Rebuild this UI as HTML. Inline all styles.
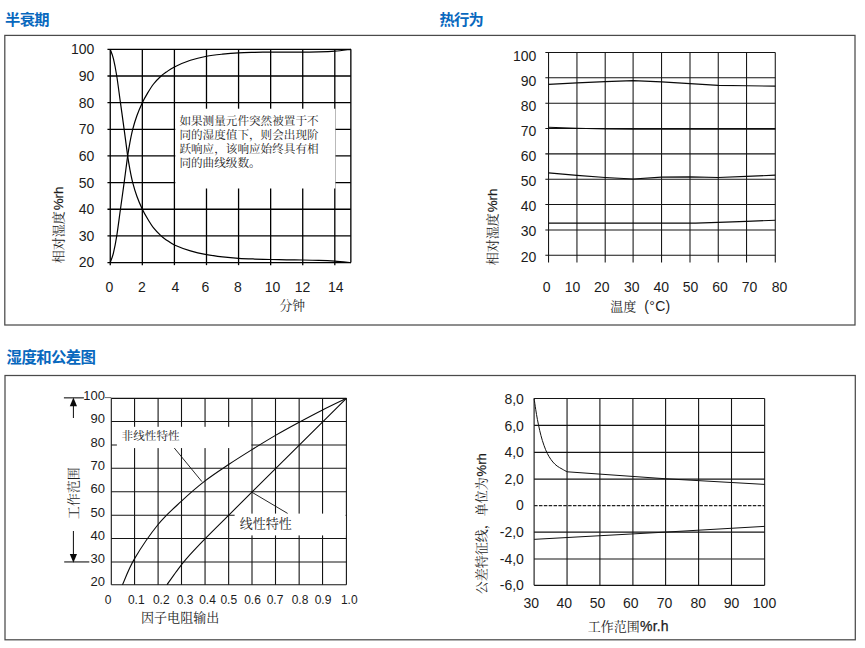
<!DOCTYPE html>
<html lang="zh-CN">
<head>
<meta charset="utf-8">
<title>湿度传感器特性图</title>
<style>
html,body{margin:0;padding:0;background:#fff;}
body{width:865px;height:648px;overflow:hidden;font-family:"Liberation Sans",sans-serif;}
svg{display:block;}
svg text{font-family:"Liberation Sans",sans-serif;}
svg text.hd{font-family:"Liberation Sans","Noto Sans CJK SC",sans-serif;font-weight:bold;}
svg text.sf{font-family:"Liberation Serif","Noto Serif CJK SC",serif;}
</style>
</head>
<body>
<svg width="865" height="648" viewBox="0 0 865 648">
<rect x="4.8" y="35.4" width="850.2" height="289.6" fill="none" stroke="#4a4a4a" stroke-width="1.25"/>
<rect x="5" y="375.5" width="850.3" height="264.3" fill="none" stroke="#4a4a4a" stroke-width="1.25"/>
<text class="hd" x="5.1" y="25.4" font-size="15.3" textLength="44.4" lengthAdjust="spacing" fill="#0868be">半衰期</text>
<text class="hd" x="439.5" y="25.4" font-size="15.3" textLength="44.4" lengthAdjust="spacing" fill="#0868be">热行为</text>
<text class="hd" x="6.6" y="362.8" font-size="15.4" textLength="89.4" lengthAdjust="spacing" fill="#0868be">湿度和公差图</text>
<g id="c1">
<line x1="110.25" y1="49.35" x2="110.25" y2="265.15" stroke="#000" stroke-width="1.3"/>
<line x1="142.33" y1="49.35" x2="142.33" y2="265.15" stroke="#000" stroke-width="1.3"/>
<line x1="174.41" y1="49.35" x2="174.41" y2="265.15" stroke="#000" stroke-width="1.3"/>
<line x1="206.49" y1="49.35" x2="206.49" y2="265.15" stroke="#000" stroke-width="1.3"/>
<line x1="238.57" y1="49.35" x2="238.57" y2="265.15" stroke="#000" stroke-width="1.3"/>
<line x1="270.65" y1="49.35" x2="270.65" y2="265.15" stroke="#000" stroke-width="1.3"/>
<line x1="302.73" y1="49.35" x2="302.73" y2="265.15" stroke="#000" stroke-width="1.3"/>
<line x1="334.81" y1="49.35" x2="334.81" y2="265.15" stroke="#000" stroke-width="1.3"/>
<line x1="350.85" y1="49.35" x2="350.85" y2="262.55" stroke="#000" stroke-width="1.3"/>
<line x1="107.45" y1="262.55" x2="350.85" y2="262.55" stroke="#000" stroke-width="1.3"/>
<line x1="107.45" y1="235.9" x2="350.85" y2="235.9" stroke="#000" stroke-width="1.3"/>
<line x1="107.45" y1="209.25" x2="350.85" y2="209.25" stroke="#000" stroke-width="1.3"/>
<line x1="107.45" y1="182.6" x2="350.85" y2="182.6" stroke="#000" stroke-width="1.3"/>
<line x1="107.45" y1="155.95" x2="350.85" y2="155.95" stroke="#000" stroke-width="1.3"/>
<line x1="107.45" y1="129.3" x2="350.85" y2="129.3" stroke="#000" stroke-width="1.3"/>
<line x1="107.45" y1="102.65" x2="350.85" y2="102.65" stroke="#000" stroke-width="1.3"/>
<line x1="107.45" y1="76" x2="350.85" y2="76" stroke="#000" stroke-width="1.3"/>
<line x1="107.45" y1="49.35" x2="350.85" y2="49.35" stroke="#000" stroke-width="1.3"/>
<path d="M110.25 262.55C110.78 260.95 112.38 257.4 113.46 252.96C114.54 248.51 115.58 243.18 116.75 235.9C117.91 228.62 119.2 218.13 120.44 209.25C121.67 200.37 122.94 191.48 124.14 182.6C125.34 173.72 126.68 162.7 127.65 155.95C128.63 149.2 129.14 146.53 129.98 142.09C130.82 137.65 131.56 133.7 132.71 129.3C133.86 124.9 135.27 120.15 136.88 115.71C138.48 111.27 140.59 106.34 142.33 102.65C144.07 98.96 145.43 96.7 147.3 93.59C149.17 90.48 151.26 86.93 153.56 84C155.86 81.06 158.96 78 161.1 76C163.24 74 164.17 73.51 166.39 72C168.61 70.49 170.4 68.89 174.41 66.94C178.42 64.98 185.1 62.05 190.45 60.28C195.8 58.5 201.14 57.3 206.49 56.28C211.84 55.26 217.18 54.72 222.53 54.15C227.88 53.57 233.22 53.12 238.57 52.81C243.92 52.51 249.26 52.45 254.61 52.33C259.96 52.22 265.3 52.19 270.65 52.15C276 52.11 281.34 52.11 286.69 52.09C292.04 52.08 297.38 52.11 302.73 52.07C308.08 52.03 313.42 52.01 318.77 51.86C324.12 51.7 329.46 51.53 334.81 51.11C340.16 50.69 348.18 49.64 350.85 49.35" fill="none" stroke="#000" stroke-width="1.2"/>
<path d="M110.25 49.35C110.78 50.95 112.38 54.5 113.46 58.94C114.54 63.39 115.58 68.72 116.75 76C117.91 83.28 119.2 93.77 120.44 102.65C121.67 111.53 122.94 120.42 124.14 129.3C125.34 138.18 126.68 149.2 127.65 155.95C128.63 162.7 129.14 165.37 129.98 169.81C130.82 174.25 131.56 178.2 132.71 182.6C133.86 187 135.27 191.75 136.88 196.19C138.48 200.63 140.59 205.56 142.33 209.25C144.07 212.94 145.43 215.2 147.3 218.31C149.17 221.42 151.26 224.97 153.56 227.91C155.86 230.84 158.96 233.9 161.1 235.9C163.24 237.9 164.17 238.39 166.39 239.9C168.61 241.41 170.4 243.14 174.41 244.96C178.42 246.78 185.1 249.22 190.45 250.82C195.8 252.42 201.14 253.56 206.49 254.56C211.84 255.55 217.18 256.2 222.53 256.82C227.88 257.44 233.22 257.92 238.57 258.29C243.92 258.65 249.26 258.83 254.61 259.03C259.96 259.23 265.3 259.36 270.65 259.49C276 259.61 281.34 259.69 286.69 259.78C292.04 259.86 297.38 259.88 302.73 259.99C308.08 260.1 313.42 260.21 318.77 260.42C324.12 260.62 329.46 260.86 334.81 261.22C340.16 261.57 348.18 262.33 350.85 262.55" fill="none" stroke="#000" stroke-width="1.2"/>
<rect x="175.3" y="108.7" width="160.1" height="79.8" fill="#fff"/>
<text class="sf" x="179.4" y="125.3" font-size="11.6" textLength="139.2" lengthAdjust="spacing" fill="#1c1c1c">如果测量元件突然被置于不</text>
<text class="sf" x="179.4" y="139.3" font-size="11.6" textLength="139.2" lengthAdjust="spacing" fill="#1c1c1c">同的湿度值下，则会出现阶</text>
<text class="sf" x="179.4" y="153.3" font-size="11.6" textLength="139.2" lengthAdjust="spacing" fill="#1c1c1c">跃响应，该响应始终具有相</text>
<text class="sf" x="179.4" y="167.3" font-size="11.6" textLength="81.2" lengthAdjust="spacing" fill="#1c1c1c">同的曲线级数。</text>
<text x="94.3" y="267.45" font-size="14" text-anchor="end" fill="#1c1c1c">20</text>
<text x="94.3" y="240.8" font-size="14" text-anchor="end" fill="#1c1c1c">30</text>
<text x="94.3" y="214.15" font-size="14" text-anchor="end" fill="#1c1c1c">40</text>
<text x="94.3" y="187.5" font-size="14" text-anchor="end" fill="#1c1c1c">50</text>
<text x="94.3" y="160.85" font-size="14" text-anchor="end" fill="#1c1c1c">60</text>
<text x="94.3" y="134.2" font-size="14" text-anchor="end" fill="#1c1c1c">70</text>
<text x="94.3" y="107.55" font-size="14" text-anchor="end" fill="#1c1c1c">80</text>
<text x="94.3" y="80.9" font-size="14" text-anchor="end" fill="#1c1c1c">90</text>
<text x="94.3" y="54.25" font-size="14" text-anchor="end" fill="#1c1c1c">100</text>
<text x="109.5" y="291.61" font-size="14" text-anchor="middle" fill="#1c1c1c">0</text>
<text x="142" y="291.61" font-size="14" text-anchor="middle" fill="#1c1c1c">2</text>
<text x="175.5" y="291.61" font-size="14" text-anchor="middle" fill="#1c1c1c">4</text>
<text x="205.5" y="291.61" font-size="14" text-anchor="middle" fill="#1c1c1c">6</text>
<text x="238" y="291.61" font-size="14" text-anchor="middle" fill="#1c1c1c">8</text>
<text x="272.5" y="291.61" font-size="14" text-anchor="middle" fill="#1c1c1c">10</text>
<text x="302.5" y="291.61" font-size="14" text-anchor="middle" fill="#1c1c1c">12</text>
<text x="335.75" y="291.61" font-size="14" text-anchor="middle" fill="#1c1c1c">14</text>
<text class="sf" x="279.4" y="310" font-size="12.8" textLength="25.6" lengthAdjust="spacing" fill="#1c1c1c">分钟</text>
<text class="sf" x="0" y="0" transform="translate(62.6 263.2) rotate(-90)" font-size="13" textLength="52" lengthAdjust="spacing" fill="#1c1c1c">相对湿度</text>
<text x="0" y="0" transform="translate(62.6 210.3) rotate(-90)" font-size="13.4" text-anchor="start" fill="#1c1c1c" stroke="#1c1c1c" stroke-width="0.25">%rh</text>
</g>
<g id="c2">
<line x1="548.55" y1="52.45" x2="548.55" y2="262.48" stroke="#141414" stroke-width="1.05"/>
<line x1="576.95" y1="52.45" x2="576.95" y2="262.48" stroke="#141414" stroke-width="1.05"/>
<line x1="605.2" y1="52.45" x2="605.2" y2="262.48" stroke="#141414" stroke-width="1.05"/>
<line x1="633.1" y1="52.45" x2="633.1" y2="262.48" stroke="#141414" stroke-width="1.05"/>
<line x1="661.55" y1="52.45" x2="661.55" y2="262.48" stroke="#141414" stroke-width="1.05"/>
<line x1="690" y1="52.45" x2="690" y2="262.48" stroke="#141414" stroke-width="1.05"/>
<line x1="718.25" y1="52.45" x2="718.25" y2="262.48" stroke="#141414" stroke-width="1.05"/>
<line x1="746.55" y1="52.45" x2="746.55" y2="262.48" stroke="#141414" stroke-width="1.05"/>
<line x1="775.27" y1="52.45" x2="775.27" y2="262.48" stroke="#141414" stroke-width="1.05"/>
<line x1="545.35" y1="255.28" x2="775.27" y2="255.28" stroke="#141414" stroke-width="1.05"/>
<line x1="545.35" y1="229.93" x2="775.27" y2="229.93" stroke="#141414" stroke-width="1.05"/>
<line x1="545.35" y1="204.57" x2="775.27" y2="204.57" stroke="#141414" stroke-width="1.05"/>
<line x1="545.35" y1="179.22" x2="775.27" y2="179.22" stroke="#141414" stroke-width="1.05"/>
<line x1="545.35" y1="153.87" x2="775.27" y2="153.87" stroke="#141414" stroke-width="1.05"/>
<line x1="545.35" y1="128.51" x2="775.27" y2="128.51" stroke="#141414" stroke-width="1.05"/>
<line x1="545.35" y1="103.16" x2="775.27" y2="103.16" stroke="#141414" stroke-width="1.05"/>
<line x1="545.35" y1="77.8" x2="775.27" y2="77.8" stroke="#141414" stroke-width="1.05"/>
<line x1="545.35" y1="52.45" x2="775.27" y2="52.45" stroke="#141414" stroke-width="1.05"/>
<path d="M548.55 84.4L576.95 82.87L605.2 81.61L633.1 80.59L661.55 81.86L690 83.64L718.25 85.41L746.55 85.79L775.27 86.17" fill="none" stroke="#0a0a0a" stroke-width="1.15" stroke-linejoin="round"/>
<path d="M548.55 127.24L576.95 128.26L605.2 129.02L633.1 129.15L775.27 129.15" fill="none" stroke="#0a0a0a" stroke-width="1.15" stroke-linejoin="round"/>
<path d="M548.55 172.88L576.95 175.42L605.2 177.45L633.1 178.97L661.55 177.19L690 176.81L718.25 177.45L746.55 176.43L775.27 175.16" fill="none" stroke="#0a0a0a" stroke-width="1.15" stroke-linejoin="round"/>
<path d="M548.55 223.08L695.65 223.08L718.25 222.32L746.55 221.31L775.27 220.29" fill="none" stroke="#0a0a0a" stroke-width="1.15" stroke-linejoin="round"/>
<text x="536.3" y="61.26" font-size="14" text-anchor="end" fill="#1c1c1c">100</text>
<text x="536.3" y="86.29" font-size="14" text-anchor="end" fill="#1c1c1c">90</text>
<text x="536.3" y="111.32" font-size="14" text-anchor="end" fill="#1c1c1c">80</text>
<text x="536.3" y="136.35" font-size="14" text-anchor="end" fill="#1c1c1c">70</text>
<text x="536.3" y="161.38" font-size="14" text-anchor="end" fill="#1c1c1c">60</text>
<text x="536.3" y="186.41" font-size="14" text-anchor="end" fill="#1c1c1c">50</text>
<text x="536.3" y="211.44" font-size="14" text-anchor="end" fill="#1c1c1c">40</text>
<text x="536.3" y="236.47" font-size="14" text-anchor="end" fill="#1c1c1c">30</text>
<text x="536.3" y="261.5" font-size="14" text-anchor="end" fill="#1c1c1c">20</text>
<text x="546.75" y="291.61" font-size="14" text-anchor="middle" fill="#1c1c1c">0</text>
<text x="572.5" y="291.61" font-size="14" text-anchor="middle" fill="#1c1c1c">10</text>
<text x="601.75" y="291.61" font-size="14" text-anchor="middle" fill="#1c1c1c">20</text>
<text x="631.75" y="291.61" font-size="14" text-anchor="middle" fill="#1c1c1c">30</text>
<text x="661.25" y="291.61" font-size="14" text-anchor="middle" fill="#1c1c1c">40</text>
<text x="690.5" y="291.61" font-size="14" text-anchor="middle" fill="#1c1c1c">50</text>
<text x="720" y="291.61" font-size="14" text-anchor="middle" fill="#1c1c1c">60</text>
<text x="749.5" y="291.61" font-size="14" text-anchor="middle" fill="#1c1c1c">70</text>
<text x="779.5" y="291.61" font-size="14" text-anchor="middle" fill="#1c1c1c">80</text>
<text class="sf" x="610.3" y="311" font-size="13" textLength="26" lengthAdjust="spacing" fill="#1c1c1c">温度</text>
<text x="644.3" y="311" font-size="14" text-anchor="start" fill="#1c1c1c" letter-spacing="0.3">(°C)</text>
<text class="sf" x="0" y="0" transform="translate(497.1 265.2) rotate(-90)" font-size="13" textLength="52" lengthAdjust="spacing" fill="#1c1c1c">相对湿度</text>
<text x="0" y="0" transform="translate(497.1 212.3) rotate(-90)" font-size="13.4" text-anchor="start" fill="#1c1c1c" stroke="#1c1c1c" stroke-width="0.25">%rh</text>
</g>
<g id="c3">
<line x1="111.3" y1="398.33" x2="111.3" y2="584.8" stroke="#141414" stroke-width="1.1"/>
<line x1="134.57" y1="398.33" x2="134.57" y2="584.8" stroke="#141414" stroke-width="1.1"/>
<line x1="158.1" y1="398.33" x2="158.1" y2="584.8" stroke="#141414" stroke-width="1.1"/>
<line x1="181.5" y1="398.33" x2="181.5" y2="584.8" stroke="#141414" stroke-width="1.1"/>
<line x1="205.05" y1="398.33" x2="205.05" y2="584.8" stroke="#141414" stroke-width="1.1"/>
<line x1="228.65" y1="398.33" x2="228.65" y2="584.8" stroke="#141414" stroke-width="1.1"/>
<line x1="252" y1="398.33" x2="252" y2="584.8" stroke="#141414" stroke-width="1.1"/>
<line x1="275.5" y1="398.33" x2="275.5" y2="584.8" stroke="#141414" stroke-width="1.1"/>
<line x1="299.15" y1="398.33" x2="299.15" y2="584.8" stroke="#141414" stroke-width="1.1"/>
<line x1="322.55" y1="398.33" x2="322.55" y2="584.8" stroke="#141414" stroke-width="1.1"/>
<line x1="346.4" y1="398.33" x2="346.4" y2="584.8" stroke="#141414" stroke-width="1.1"/>
<line x1="111.3" y1="584.8" x2="346.4" y2="584.8" stroke="#141414" stroke-width="1.1"/>
<line x1="111.3" y1="561.94" x2="346.4" y2="561.94" stroke="#141414" stroke-width="1.1"/>
<line x1="111.3" y1="538.45" x2="346.4" y2="538.45" stroke="#141414" stroke-width="1.1"/>
<line x1="111.3" y1="515.2" x2="346.4" y2="515.2" stroke="#141414" stroke-width="1.1"/>
<line x1="111.3" y1="491.7" x2="346.4" y2="491.7" stroke="#141414" stroke-width="1.1"/>
<line x1="111.3" y1="468.25" x2="346.4" y2="468.25" stroke="#141414" stroke-width="1.1"/>
<line x1="111.3" y1="445" x2="346.4" y2="445" stroke="#141414" stroke-width="1.1"/>
<line x1="111.3" y1="421.55" x2="346.4" y2="421.55" stroke="#141414" stroke-width="1.1"/>
<line x1="111.3" y1="398.33" x2="346.4" y2="398.33" stroke="#141414" stroke-width="1.1"/>
<line x1="63.9" y1="397.85" x2="83.9" y2="397.85" stroke="#141414" stroke-width="1.1"/>
<line x1="104.9" y1="397.6" x2="111.3" y2="397.6" stroke="#444" stroke-width="0.8"/>
<line x1="64.2" y1="561.94" x2="89.3" y2="561.94" stroke="#141414" stroke-width="1.1"/>
<line x1="73.4" y1="400" x2="73.4" y2="418" stroke="#0a0a0a" stroke-width="1"/>
<path d="M73.4 397.6L77 406.3L69.8 406.3Z" fill="#0a0a0a"/>
<line x1="73.4" y1="531" x2="73.4" y2="560" stroke="#0a0a0a" stroke-width="1"/>
<path d="M73.4 562.7L77 554.1L69.8 554.1Z" fill="#0a0a0a"/>
<path d="M122.47 584.8C124.49 580.44 128.63 568.7 134.57 558.65C140.51 548.6 150.28 534.09 158.1 524.5C165.92 514.91 173.68 508.36 181.5 501.1C189.32 493.84 197.19 487.01 205.05 480.91C212.91 474.82 220.83 469.74 228.65 464.53C236.47 459.32 244.19 454.51 252 449.65C259.81 444.79 267.64 439.95 275.5 435.39C283.36 430.82 291.31 426.49 299.15 422.25C306.99 418.01 314.68 413.93 322.55 409.94C330.43 405.95 342.42 400.26 346.4 398.33" fill="none" stroke="#0a0a0a" stroke-width="1.1"/>
<path d="M167 584.7C168.58 582.47 173.28 575.62 176.5 571.3C179.72 566.98 181.52 564.25 186.3 558.8C191.08 553.35 198.12 545.88 205.2 538.6C212.28 531.32 224.87 519.02 228.8 515.1L346.4 398.33" fill="none" stroke="#0a0a0a" stroke-width="1.1"/>
<rect x="116.9" y="426.8" width="134.3" height="21.3" fill="#fff"/>
<text class="sf" x="121.6" y="440" font-size="11.6" textLength="58" lengthAdjust="spacing" fill="#1c1c1c">非线性特性</text>
<rect x="234.6" y="513.6" width="110.9" height="21.8" fill="#fff"/>
<text class="sf" x="239.8" y="528.3" font-size="13" textLength="52" lengthAdjust="spacing" fill="#1c1c1c">线性特性</text>
<line x1="174.3" y1="448" x2="201.9" y2="481.6" stroke="#111" stroke-width="0.9"/>
<line x1="252" y1="492.3" x2="287.6" y2="513.4" stroke="#111" stroke-width="0.9"/>
<text x="104.9" y="586.35" font-size="13" text-anchor="end" fill="#1c1c1c">20</text>
<text x="104.9" y="563.49" font-size="13" text-anchor="end" fill="#1c1c1c">30</text>
<text x="104.9" y="540" font-size="13" text-anchor="end" fill="#1c1c1c">40</text>
<text x="104.9" y="516.75" font-size="13" text-anchor="end" fill="#1c1c1c">50</text>
<text x="104.9" y="493.25" font-size="13" text-anchor="end" fill="#1c1c1c">60</text>
<text x="104.9" y="469.8" font-size="13" text-anchor="end" fill="#1c1c1c">70</text>
<text x="104.9" y="446.55" font-size="13" text-anchor="end" fill="#1c1c1c">80</text>
<text x="104.9" y="423.1" font-size="13" text-anchor="end" fill="#1c1c1c">90</text>
<text x="104.9" y="399.88" font-size="13" text-anchor="end" fill="#1c1c1c">100</text>
<text x="108" y="604.2" font-size="12" text-anchor="middle" fill="#1c1c1c">0</text>
<text x="136.25" y="604.2" font-size="12" text-anchor="middle" fill="#1c1c1c">0.1</text>
<text x="161.25" y="604.2" font-size="12" text-anchor="middle" fill="#1c1c1c">0.2</text>
<text x="185" y="604.2" font-size="12" text-anchor="middle" fill="#1c1c1c">0.3</text>
<text x="207.5" y="604.2" font-size="12" text-anchor="middle" fill="#1c1c1c">0.4</text>
<text x="228.75" y="604.2" font-size="12" text-anchor="middle" fill="#1c1c1c">0.5</text>
<text x="252.5" y="604.2" font-size="12" text-anchor="middle" fill="#1c1c1c">0.6</text>
<text x="275" y="604.2" font-size="12" text-anchor="middle" fill="#1c1c1c">0.7</text>
<text x="300" y="604.2" font-size="12" text-anchor="middle" fill="#1c1c1c">0.8</text>
<text x="323" y="604.2" font-size="12" text-anchor="middle" fill="#1c1c1c">0.9</text>
<text x="349.25" y="604.2" font-size="12" text-anchor="middle" fill="#1c1c1c">1.0</text>
<text class="sf" x="141" y="621.6" font-size="13.05" textLength="78.3" lengthAdjust="spacing" fill="#1c1c1c">因子电阻输出</text>
<text class="sf" x="0" y="0" transform="translate(77.6 519.2) rotate(-90)" font-size="13" textLength="52" lengthAdjust="spacing" fill="#1c1c1c">工作范围</text>
</g>
<g id="c4">
<line x1="534.1" y1="398.45" x2="534.1" y2="585.33" stroke="#141414" stroke-width="1.1"/>
<line x1="567.05" y1="398.45" x2="567.05" y2="585.33" stroke="#141414" stroke-width="1.1"/>
<line x1="599.9" y1="398.45" x2="599.9" y2="585.33" stroke="#141414" stroke-width="1.1"/>
<line x1="632.9" y1="398.45" x2="632.9" y2="585.33" stroke="#141414" stroke-width="1.1"/>
<line x1="665.6" y1="398.45" x2="665.6" y2="585.33" stroke="#141414" stroke-width="1.1"/>
<line x1="698.6" y1="398.45" x2="698.6" y2="585.33" stroke="#141414" stroke-width="1.1"/>
<line x1="731.5" y1="398.45" x2="731.5" y2="585.33" stroke="#141414" stroke-width="1.1"/>
<line x1="764.65" y1="398.45" x2="764.65" y2="585.33" stroke="#141414" stroke-width="1.1"/>
<line x1="534.1" y1="398.45" x2="764.65" y2="398.45" stroke="#141414" stroke-width="1.1"/>
<line x1="534.1" y1="425.37" x2="764.65" y2="425.37" stroke="#141414" stroke-width="1.1"/>
<line x1="534.1" y1="452.4" x2="764.65" y2="452.4" stroke="#141414" stroke-width="1.1"/>
<line x1="534.1" y1="479.15" x2="764.65" y2="479.15" stroke="#141414" stroke-width="1.1"/>
<line x1="534.1" y1="532.1" x2="764.65" y2="532.1" stroke="#141414" stroke-width="1.1"/>
<line x1="534.1" y1="558.94" x2="764.65" y2="558.94" stroke="#141414" stroke-width="1.1"/>
<line x1="534.1" y1="585.33" x2="764.65" y2="585.33" stroke="#141414" stroke-width="1.1"/>
<line x1="534.1" y1="505.7" x2="764.65" y2="505.7" stroke="#222" stroke-width="1.25" stroke-dasharray="3.5 1.36"/>
<path d="M534.1 398.45C534.37 400.33 535.2 406.26 535.75 409.74C536.3 413.23 536.74 415.9 537.39 419.35C538.05 422.8 538.88 426.93 539.7 430.44C540.53 433.95 541.35 437.2 542.34 440.41C543.33 443.63 544.53 447.06 545.63 449.73C546.73 452.4 547.72 454.37 548.93 456.42C550.14 458.47 551.51 460.42 552.88 462.03C554.25 463.64 555.63 464.91 557.16 466.08C558.7 467.25 560.46 468.11 562.11 469.06C563.75 470.01 566.23 471.34 567.05 471.79L665.6 478.75L764.65 484.4" fill="none" stroke="#111" stroke-width="1" stroke-linejoin="round"/>
<path d="M534.1 539.35L665.6 532.1L764.65 526.36" fill="none" stroke="#111" stroke-width="1"/>
<text x="523.9" y="403.9" font-size="14" text-anchor="end" fill="#1c1c1c">8,0</text>
<text x="523.9" y="430.54" font-size="14" text-anchor="end" fill="#1c1c1c">6,0</text>
<text x="523.9" y="457.18" font-size="14" text-anchor="end" fill="#1c1c1c">4,0</text>
<text x="523.9" y="483.82" font-size="14" text-anchor="end" fill="#1c1c1c">2,0</text>
<text x="523.9" y="510.46" font-size="14" text-anchor="end" fill="#1c1c1c">0</text>
<text x="523.9" y="537.1" font-size="14" text-anchor="end" fill="#1c1c1c">-2,0</text>
<text x="523.9" y="563.74" font-size="14" text-anchor="end" fill="#1c1c1c">-4,0</text>
<text x="523.9" y="590.38" font-size="14" text-anchor="end" fill="#1c1c1c">-6,0</text>
<text x="531.25" y="607.51" font-size="14" text-anchor="middle" fill="#1c1c1c">30</text>
<text x="564.25" y="607.51" font-size="14" text-anchor="middle" fill="#1c1c1c">40</text>
<text x="597.5" y="607.51" font-size="14" text-anchor="middle" fill="#1c1c1c">50</text>
<text x="630.75" y="607.51" font-size="14" text-anchor="middle" fill="#1c1c1c">60</text>
<text x="664.6" y="607.51" font-size="14" text-anchor="middle" fill="#1c1c1c">70</text>
<text x="698.25" y="607.51" font-size="14" text-anchor="middle" fill="#1c1c1c">80</text>
<text x="731.5" y="607.51" font-size="14" text-anchor="middle" fill="#1c1c1c">90</text>
<text x="764.5" y="607.51" font-size="14" text-anchor="middle" fill="#1c1c1c">100</text>
<text class="sf" x="587.8" y="630.7" font-size="13" textLength="52" lengthAdjust="spacing" fill="#1c1c1c">工作范围</text>
<text x="640.1" y="631" font-size="14" text-anchor="start" fill="#1c1c1c" stroke="#1c1c1c" stroke-width="0.25" letter-spacing="0.15">%r.h</text>
<text class="sf" x="0" y="0" transform="translate(486 594.2) rotate(-90)" font-size="13" textLength="117" lengthAdjust="spacing" fill="#1c1c1c">公差特征线，单位为</text>
<text x="0" y="0" transform="translate(486 476.6) rotate(-90)" font-size="13.2" text-anchor="start" fill="#1c1c1c" stroke="#1c1c1c" stroke-width="0.25">%rh</text>
</g>
</svg>
</body>
</html>
